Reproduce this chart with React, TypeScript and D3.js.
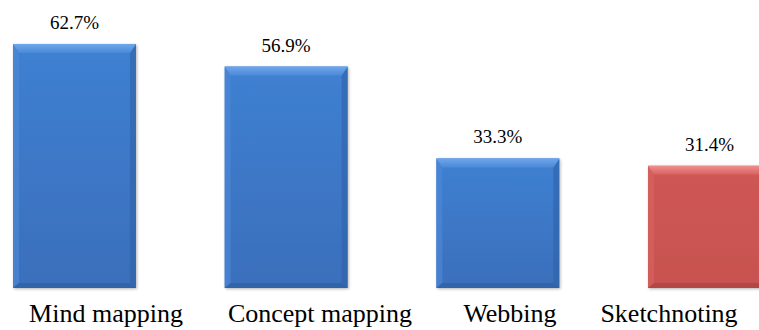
import React from "react";
import * as d3 from "d3";

const categories = ["Mind mapping", "Concept mapping", "Webbing", "Sketchnoting"];
const values = [62.7, 56.9, 33.3, 31.4];
const valueLabels = ["62.7%", "56.9%", "33.3%", "31.4%"];
const highlight = [false, false, false, true];

// layout (label centers measured from the reference, not data)
const labelCenters = [106, 320, 510, 669];

const W = 759;
const H = 330;
const FONT = "'Liberation Serif', 'Times New Roman', Times, serif";

const palettes = {
  blue: { faceTop: "#3f80d2", faceBot: "#3a6fbb", top: "#6fa6ea", topEnd: "#4a8ad8", left: "#4c88d6", right: "#2f62a6", bottom: "#2d5c9c" },
  red: { faceTop: "#cf5855", faceBot: "#c75250", top: "#ee8f8c", topEnd: "#d6625f", left: "#d5625f", right: "#a94442", bottom: "#a33f3d" },
};

export default function App() {
  const x = d3.scaleBand<string>().domain(categories).range([13, 771]).paddingInner(0.419).paddingOuter(0);
  const y = d3.scaleLinear().domain([0, 74]).range([288, 0]);
  const bw = x.bandwidth();
  const bt = 9, bs = 6, bb = 5;

  return (
    <svg width={W} height={H} style={{ position: "absolute", left: 0, top: 0, background: "#fff" }}>
      <defs>
        {(["blue", "red"] as const).map((k) => (
          <React.Fragment key={k}>
            <linearGradient id={`face-${k}`} x1="0" y1="0" x2="0" y2="1">
              <stop offset="0" stopColor={palettes[k].faceTop} />
              <stop offset="1" stopColor={palettes[k].faceBot} />
            </linearGradient>
            <linearGradient id={`top-${k}`} x1="0" y1="0" x2="0" y2="1">
              <stop offset="0" stopColor={palettes[k].top} />
              <stop offset="1" stopColor={palettes[k].topEnd} />
            </linearGradient>
          </React.Fragment>
        ))}
        <filter id="shadow" x="-10%" y="-10%" width="120%" height="120%">
          <feDropShadow dx="1" dy="1" stdDeviation="1.5" floodColor="#000" floodOpacity="0.3" />
        </filter>
      </defs>
      {categories.map((c, i) => {
        const x0 = x(c)!;
        const x1 = x0 + bw;
        const y0 = y(values[i]);
        const y1 = y(0);
        const p = highlight[i] ? palettes.red : palettes.blue;
        const k = highlight[i] ? "red" : "blue";
        const pts = (a: number[][]) => a.map((q) => q.join(",")).join(" ");
        return (
          <g key={c}>
            <rect x={x0} y={y0} width={bw} height={y1 - y0} fill={`url(#face-${k})`} filter="url(#shadow)" />
            <polygon points={pts([[x0, y0], [x0 + bs, y0 + bt], [x0 + bs, y1 - bb], [x0, y1]])} fill={p.left} opacity={0.7} />
            <polygon points={pts([[x1, y0], [x1, y1], [x1 - bs, y1 - bb], [x1 - bs, y0 + bt]])} fill={p.right} opacity={0.6} />
            <polygon points={pts([[x0, y1], [x0 + bs, y1 - bb], [x1 - bs, y1 - bb], [x1, y1]])} fill={p.bottom} opacity={0.6} />
            <polygon points={pts([[x0, y0], [x1, y0], [x1 - bs, y0 + bt], [x0 + bs, y0 + bt]])} fill={`url(#top-${k})`} />
            <text x={x0 + bw / 2} y={y0 - 15} textAnchor="middle" fontFamily={FONT} fontSize={19} fill="#000">
              {valueLabels[i]}
            </text>
            <text x={labelCenters[i]} y={322} textAnchor="middle" fontFamily={FONT} fontSize={26} fill="#000">
              {c}
            </text>
          </g>
        );
      })}
    </svg>
  );
}
